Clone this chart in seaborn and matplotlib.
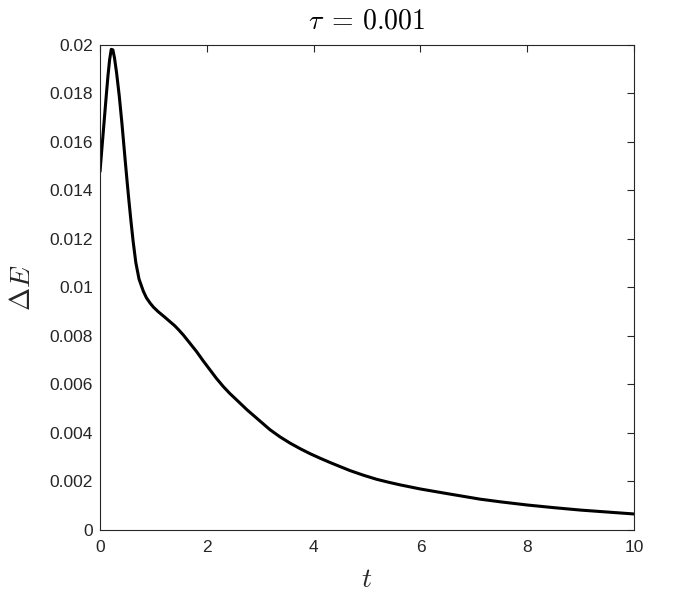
import numpy as np
import pandas as pd
import matplotlib
matplotlib.use("Agg")
import matplotlib.pyplot as plt
import seaborn as sns

t_vals = [0, 0.03, 0.06, 0.09, 0.12, 0.15, 0.18, 0.21, 0.24, 0.27, 0.31, 0.36,
          0.41, 0.47, 0.51, 0.54, 0.58, 0.62, 0.67, 0.73, 0.81, 0.87, 0.94,
          1.0, 1.09, 1.2, 1.31, 1.4, 1.47, 1.56, 1.68, 1.81, 1.93, 2.06, 2.18,
          2.31, 2.43, 2.56, 2.75, 2.96, 3.18, 3.37, 3.56, 3.75, 3.93, 4.12,
          4.31, 4.5, 4.68, 4.93, 5.18, 5.4, 5.62, 6.0, 6.5, 7.12, 7.5, 8.0,
          8.5, 9.0, 9.5, 10]
dE_vals = [0.01478, 0.0156, 0.0164, 0.0172, 0.0180, 0.01876, 0.0194, 0.01982,
           0.0198, 0.01948, 0.01885, 0.0179, 0.01677, 0.01527, 0.0143, 0.0136,
           0.01272, 0.0119, 0.01103, 0.01035, 0.00985, 0.00957, 0.00935,
           0.00919, 0.009, 0.0088, 0.00859, 0.00842, 0.00826, 0.00804,
           0.00771, 0.00735, 0.00698, 0.0066, 0.00625, 0.00591, 0.00563,
           0.00536, 0.00496, 0.00456, 0.00414, 0.00384, 0.00358, 0.00335,
           0.00315, 0.00296, 0.00278, 0.00261, 0.00245, 0.00226, 0.00209,
           0.00197, 0.00186, 0.00169, 0.0015, 0.00127, 0.00116, 0.00103,
           0.00092, 0.00082, 0.00074, 0.00066]
x_ticks = [0, 2, 4, 6, 8, 10]
y_ticks = [0, 0.002, 0.004, 0.006, 0.008, 0.01, 0.012, 0.014, 0.016, 0.018, 0.02]
y_tick_labels = ["0", "0.002", "0.004", "0.006", "0.008", "0.01", "0.012",
                 "0.014", "0.016", "0.018", "0.02"]

df = pd.DataFrame({"t": t_vals, "dE": dE_vals})

sns.set_style("white")
plt.rcParams["font.family"] = ["Liberation Sans", "DejaVu Sans"]
plt.rcParams["mathtext.fontset"] = "cm"

ink = "#262626"
fig = plt.figure(figsize=(7, 6), dpi=100)
ax = fig.add_axes([0.1429, 0.1167, 0.7629, 0.8083])

sns.lineplot(data=df, x="t", y="dE", ax=ax, color="black", linewidth=2.2,
             sort=False, estimator=None, solid_joinstyle="round",
             solid_capstyle="round")

ax.set_xlim(0, 10)
ax.set_ylim(0, 0.02)
ax.set_xticks(x_ticks)
ax.set_xticklabels([str(v) for v in x_ticks])
ax.set_yticks(y_ticks)
ax.set_yticklabels(y_tick_labels)
ax.tick_params(direction="in", top=True, right=True, length=5, width=0.8,
               labelsize=12.5, colors=ink, labelcolor=ink)
ax.tick_params(axis="x", pad=7)
ax.tick_params(axis="y", pad=5)
for s in ax.spines.values():
    s.set_linewidth(0.8)
    s.set_color(ink)
    s.set_visible(True)

ax.set_xlabel(r"$t$", fontsize=20, labelpad=9, color=ink)
ax.set_ylabel(r"$\Delta E$", fontsize=20, labelpad=10, color=ink)
ax.set_title(r"$\tau\;=\,0.001$", fontsize=20, pad=12, color="black")

fig.savefig("out.png", dpi=100)
